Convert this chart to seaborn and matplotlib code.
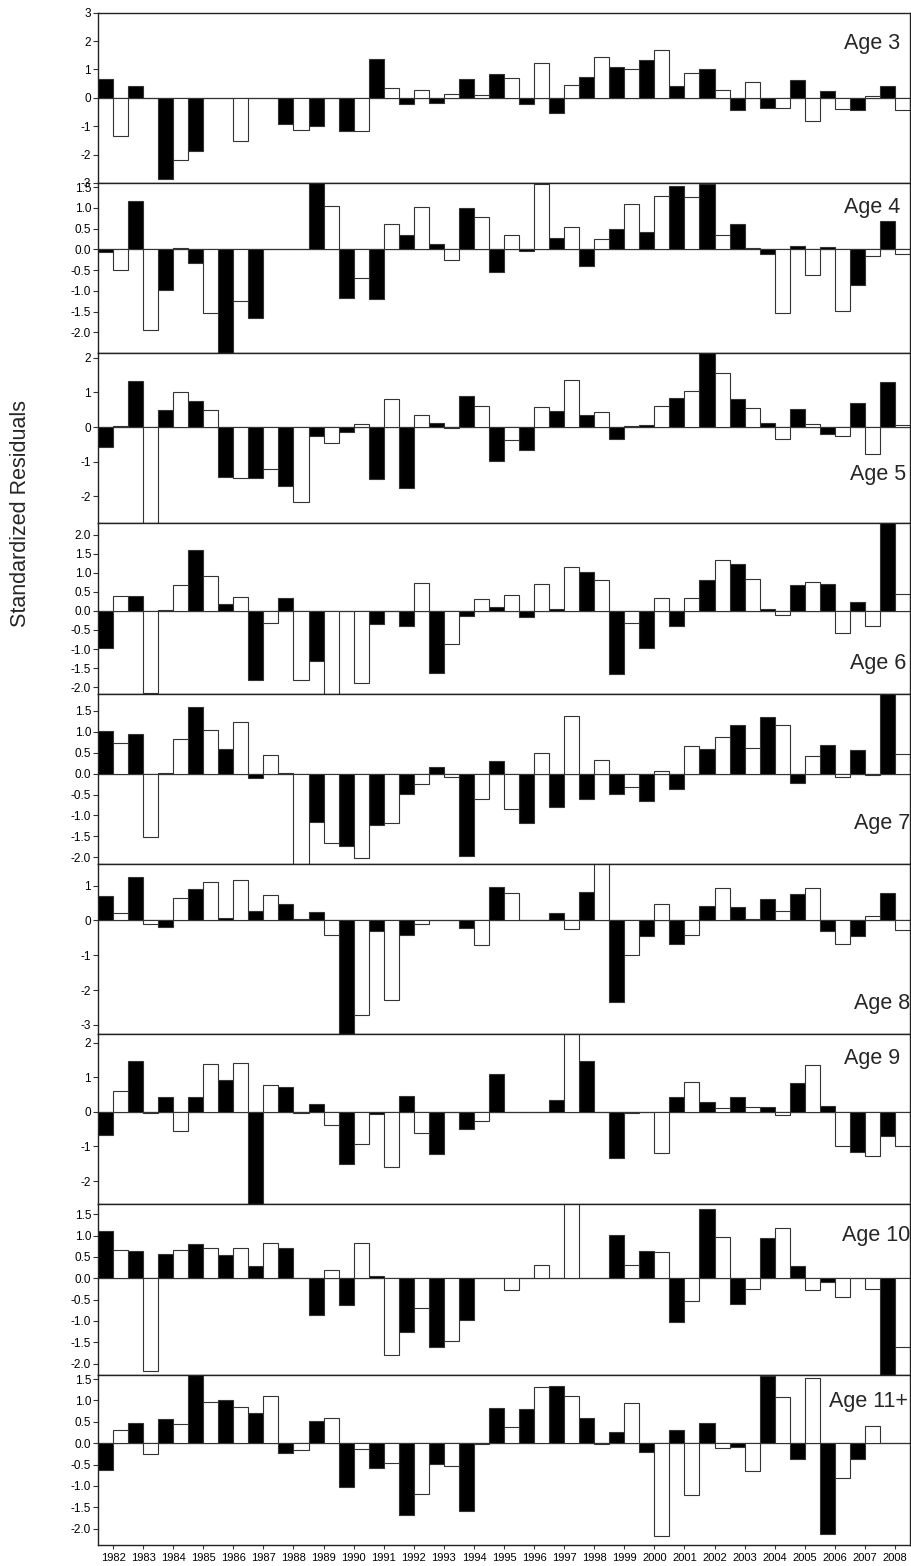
import numpy as np
import pandas as pd
import seaborn as sns
import matplotlib.pyplot as plt
from matplotlib.ticker import FormatStrFormatter

years = [str(y) for y in range(1982, 2009)]

# two residual series per age: dark bars (left) and open bars (right)
age3_dark = [0.65, 0.40, -2.85, -1.88, 0, 0, -0.93, -1.01, -1.17, 1.37, -0.2, -0.19, 0.68, 0.83,
             -0.21, -0.52, 0.75, 1.1, 1.32, 0.4, 1.01, -0.44, -0.37, 0.62, 0.25, -0.43, 0.43]
age3_open = [-1.35, 0, -2.2, 0, -1.52, 0, -1.15, 0, -1.18, 0.36, 0.29, 0.15, 0.1, 0.69,
             1.24, 0.45, 1.45, 1.0, 1.7, 0.88, 0.26, 0.57, -0.37, -0.8, -0.39, 0.06, -0.43]

age4_dark = [-0.07, 1.17, -0.97, -0.33, -2.6, -1.65, 0, 1.7, -1.17, -1.19, 0.35, 0.14, 1.0, -0.55,
             -0.03, 0.28, -0.39, 0.5, 0.41, 1.53, 1.57, 0.61, -0.11, 0.08, 0.05, -0.85, 0.69]
age4_open = [-0.49, -1.94, 0.04, -1.53, -1.24, 0, 0, 1.05, -0.7, 0.61, 1.03, -0.26, 0.77, 0.35,
             1.58, 0.55, 0.24, 1.09, 1.28, 1.25, 0.35, 0.04, -1.52, -0.62, -1.48, -0.17, -0.11]

age5_dark = [-0.57, 1.34, 0.48, 0.74, -1.45, -1.46, -1.69, -0.26, -0.14, -1.49, -1.76, 0.13, 0.89, -0.98,
             -0.67, 0.47, 0.34, -0.33, 0.07, 0.83, 2.4, 0.82, 0.11, 0.52, -0.2, 0.68, 1.31]
age5_open = [0.04, -2.9, 1.01, 0.5, -1.46, -1.2, -2.17, -0.45, 0.09, 0.82, 0.35, -0.02, 0.62, -0.37,
             0.57, 1.37, 0.44, 0.02, 0.6, 1.05, 1.56, 0.54, -0.35, 0.09, -0.27, -0.77, 0.06]

age6_dark = [-0.96, 0.38, 0.03, 1.6, 0.19, -1.82, 0.33, -1.31, 0, -0.34, -0.39, -1.62, -0.14, 0.11,
             -0.15, 0.05, 1.02, -1.66, -0.98, -0.4, 0.82, 1.23, 0.04, 0.69, 0.7, 0.23, 2.4]
age6_open = [0.38, -2.15, 0.68, 0.91, 0.37, -0.33, -1.82, -2.3, -1.89, 0, 0.73, -0.87, 0.31, 0.41,
             0.71, 1.14, 0.8, -0.32, 0.34, 0.34, 1.32, 0.84, -0.11, 0.76, -0.57, -0.39, 0.45]

age7_dark = [1.03, 0.95, 0.02, 1.6, 0.59, -0.11, 0.02, -1.16, -1.74, -1.23, -0.49, 0.15, -1.98, 0.29,
             -1.19, -0.8, -0.61, -0.48, -0.66, -0.37, 0.59, 1.17, 1.36, -0.22, 0.69, 0.57, 2.0]
age7_open = [0.73, -1.52, 0.83, 1.05, 1.24, 0.44, -2.3, -1.67, -2.02, -1.19, -0.26, -0.08, -0.6, -0.84,
             0.49, 1.38, 0.33, -0.31, 0.06, 0.67, 0.87, 0.61, 1.17, 0.43, -0.08, -0.03, 0.46]

age8_dark = [0.7, 1.24, -0.18, 0.9, 0.07, 0.26, 0.46, 0.24, -3.4, -0.31, -0.41, 0, -0.23, 0.97,
             0, 0.2, 0.82, -2.35, -0.44, -0.67, 0.41, 0.39, 0.6, 0.75, -0.3, -0.46, 0.79]
age8_open = [0.2, -0.09, 0.64, 1.09, 1.17, 0.74, 0.05, -0.43, -2.72, -2.3, -0.09, 0, -0.72, 0.78,
             0, -0.25, 1.7, -0.98, 0.48, -0.41, 0.94, 0.05, 0.26, 0.93, -0.69, 0.14, -0.27]

age9_dark = [-0.68, 1.47, 0.44, 0.42, 0.93, -2.8, 0.72, 0.23, -1.52, -0.07, 0.46, -1.23, -0.48, 1.11,
             0, 0.36, 1.48, -1.33, 0, 0.44, 0.29, 0.43, 0.13, 0.84, 0.16, -1.15, -0.71]
age9_open = [0.61, -0.03, -0.56, 1.38, 1.41, 0.77, -0.03, -0.37, -0.92, -1.59, -0.61, 0, -0.27, 0,
             0, 2.3, 0, -0.02, -1.19, 0.87, 0.12, 0.15, -0.08, 1.37, -1.0, -1.29, -0.98]

age10_dark = [1.11, 0.65, 0.57, 0.8, 0.54, 0.28, 0.71, -0.87, -0.63, 0.06, -1.26, -1.6, -0.98, 0,
              0, 0, 0, 1.02, 0.65, -1.03, 1.62, -0.61, 0.94, 0.3, -0.09, 0, -2.35]
age10_open = [0.67, -2.18, 0.67, 0.72, 0.72, 0.82, 0, 0.2, 0.82, -1.79, -0.69, -1.48, 0, -0.27,
              0.32, 1.8, 0, 0.31, 0.62, -0.54, 0.97, -0.24, 1.19, -0.27, -0.44, -0.26, -1.6]

age11_dark = [-0.62, 0.47, 0.56, 1.7, 1.0, 0.7, -0.23, 0.53, -1.02, -0.57, -1.67, -0.48, -1.58, 0.82,
              0.81, 1.33, 0.6, 0.26, -0.21, 0.3, 0.48, -0.09, 1.57, -0.38, -2.13, -0.38, 0]
age11_open = [0.3, -0.26, 0.46, 0.97, 0.85, 1.1, -0.15, 0.6, -0.14, -0.47, -1.19, -0.53, -0.02, 0.37,
              1.31, 1.11, -0.03, 0.95, -2.17, -1.22, -0.11, -0.66, 1.09, 1.53, -0.81, 0.41, 0]

age_labels = ["Age 3", "Age 4", "Age 5", "Age 6", "Age 7", "Age 8", "Age 9", "Age 10", "Age 11+"]
dark = [age3_dark, age4_dark, age5_dark, age6_dark, age7_dark, age8_dark, age9_dark, age10_dark, age11_dark]
light = [age3_open, age4_open, age5_open, age6_open, age7_open, age8_open, age9_open, age10_open, age11_open]

# axis settings per panel: ylim, ticks, tick format, label position (axes fraction)
ylims = [(-3, 3), (-2.5, 1.6), (-2.78, 2.13), (-2.17, 2.29), (-2.16, 1.91),
         (-3.27, 1.62), (-2.68, 2.25), (-2.26, 1.73), (-2.38, 1.6)]
yticks = [np.arange(-3, 3.1, 1), np.arange(-2, 1.6, 0.5), np.arange(-2, 2.1, 1), np.arange(-2, 2.1, 0.5),
          np.arange(-2, 1.6, 0.5), np.arange(-3, 1.1, 1), np.arange(-2, 2.1, 1), np.arange(-2, 1.6, 0.5),
          np.arange(-2, 1.6, 0.5)]
fmts = ['%d', '%.1f', '%d', '%.1f', '%.1f', '%d', '%d', '%.1f', '%.1f']
label_pos = [(0.988, 0.82), (0.988, 0.855), (0.995, 0.29), (0.995, 0.18), (1.0, 0.235),
             (1.0, 0.18), (0.988, 0.86), (1.0, 0.82), (0.997, 0.84)]

sns.set_style('ticks')
plt.rcParams['font.family'] = ['Liberation Sans', 'DejaVu Sans']
plt.rcParams['axes.unicode_minus'] = False

fig, axes = plt.subplots(9, 1, figsize=(9.11, 15.66), dpi=100,
                         gridspec_kw=dict(hspace=0, left=98 / 911, right=910 / 911,
                                          top=1 - 12.7 / 1566, bottom=1 - 1545 / 1566))

for i, ax in enumerate(axes):
    df = pd.DataFrame({
        'year': years * 2,
        'value': dark[i] + light[i],
        'series': ['dark'] * len(years) + ['open'] * len(years),
    })
    ax.axhline(0, color='#555555', lw=0.9, zorder=0.5)
    sns.barplot(data=df, x='year', y='value', hue='series', order=years,
                palette={'dark': 'black', 'open': 'white'}, width=1.0, gap=0,
                errorbar=None, saturation=1, edgecolor='#333333', linewidth=0.8,
                legend=False, ax=ax)
    ax.set_xlim(-0.5, len(years) - 0.5)
    ax.set_ylim(*ylims[i])
    ax.set_yticks(yticks[i])
    ax.yaxis.set_major_formatter(FormatStrFormatter(fmts[i]))
    ax.set_xlabel('')
    ax.set_ylabel('')
    ax.tick_params(axis='y', direction='out', length=3.5, width=0.8, pad=1.5,
                   labelsize=8.5, colors='#333333', labelcolor='black')
    ax.tick_params(axis='x', direction='out', length=3, width=0.8, pad=3,
                   labelsize=8, colors='#333333', labelcolor='black')
    if i < len(axes) - 1:
        ax.tick_params(axis='x', labelbottom=False)
    for s in ax.spines.values():
        s.set_visible(True)
        s.set_linewidth(1.0)
        s.set_color('#222222')
    x, y = label_pos[i]
    ax.text(x, y, age_labels[i], transform=ax.transAxes, ha='right', va='center',
            fontsize=15.5, zorder=5)

fig.text(0.022, 0.672, 'Standardized Residuals', rotation=90, fontsize=15.5,
         ha='center', va='center')

fig.savefig('out.png', dpi=100)
